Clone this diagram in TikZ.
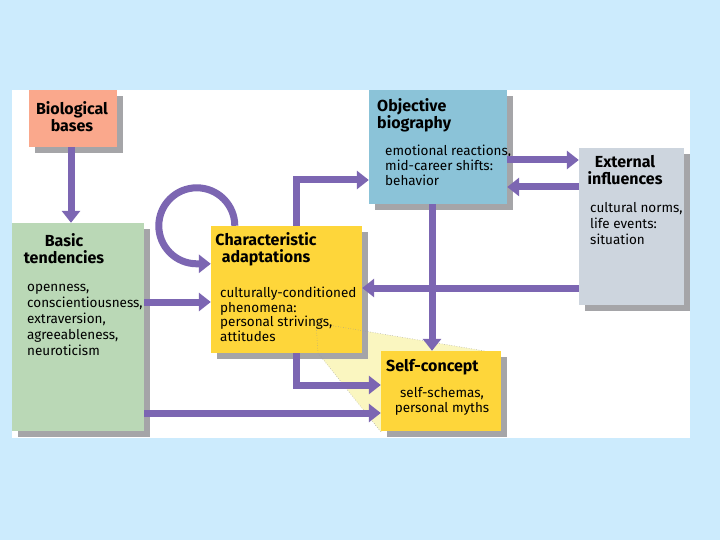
\documentclass[tikz,border=0pt]{standalone}
\usepackage{fontspec}
\setmainfont{Fira Sans}
\usetikzlibrary{arrows.meta,shadows}
\definecolor{bgblue}{RGB}{204,235,253}
\definecolor{shadowgray}{RGB}{165,165,168}
\definecolor{purp}{RGB}{124,102,178}
\definecolor{salmon}{RGB}{250,168,140}
\definecolor{sage}{RGB}{186,216,182}
\definecolor{gold}{RGB}{254,214,58}
\definecolor{skyb}{RGB}{139,195,216}
\definecolor{slate}{RGB}{205,213,222}
\definecolor{paley}{RGB}{250,246,192}
\tikzset{
  box/.style={draw=none, inner sep=0pt, drop shadow={shadow xshift=6pt, shadow yshift=-6pt, fill=shadowgray, opacity=1}},
  arr/.style={line width=7pt, draw=purp, -{Triangle[width=18pt,length=12pt]}},
  ttl/.style={inner sep=0pt, font={\fontsize{16}{17}\selectfont\bfseries}},
  bdy/.style={inner sep=0pt, font={\fontsize{13.5}{#1}\selectfont}},
  bdy/.default=15.5,
  dots/.style={draw=gray!80, line width=0.5pt, dotted}
}
\begin{document}
\begin{tikzpicture}[x=1pt,y=-1pt]
\useasboundingbox (0,0) rectangle (720,540);
\fill[bgblue] (0,0) rectangle (720,540);
\fill[white] (12,90) rectangle (690,438);
% highlight wedge
\fill[paley] (316,323) -- (485,351) -- (381,432) -- (318,353) -- cycle;
% boxes
\node[box, fill=salmon, minimum width=88pt, minimum height=57pt] (bio) at (73,118.5) {};
\node[box, fill=sage, minimum width=132pt, minimum height=208pt] (basic) at (78,327) {};
\node[box, fill=gold, minimum width=151pt, minimum height=127pt] (char) at (286.5,289.5) {};
\node[box, fill=skyb, minimum width=138pt, minimum height=114pt] (obj) at (438,147) {};
\node[box, fill=slate, minimum width=105pt, minimum height=157pt] (ext) at (631.5,226.5) {};
% dotted callout lines
\draw[dots] (316,323) -- (485,351);
\draw[dots] (316,323) -- (318,353) -- (381,432);
% texts (anchor base = baseline of last line)
\node[ttl, anchor=base, align=center] (biot) at (72,132) {Biological\\bases};
\node[ttl, anchor=base, align=center] (basict) at (64,263) {Basic\\tendencies};
\node[bdy=15.8, anchor=base west, align=left] (basicb) at (27,355) {openness,\\conscientiousness,\\extraversion,\\agreeableness,\\neuroticism};
\node[ttl, anchor=base, align=center] (chart) at (266,262) {Characteristic\\adaptations};
\node[bdy=14.5, anchor=base west, align=left] (charb) at (220,341) {culturally-conditioned\\phenomena:\\personal strivings,\\attitudes};
\node[ttl, anchor=base west, align=left] (objt) at (377,129) {Objective\\biography};
\node[bdy=15.2, anchor=base west, align=left] (objb) at (385,186) {emotional reactions,\\mid-career shifts:\\behavior};
\node[ttl, anchor=base, align=center] (extt) at (625,185) {External\\influences};
\node[bdy=16, anchor=base west, align=left] (extb) at (590,244) {cultural norms,\\life events:\\situation};
% arrows
\draw[arr] (bio.south -| 71,0) -- (basic.north -| 71,0);
\draw[arr] ([xshift=24pt]char.north west) arc[start angle=0, end angle=270, radius=38pt] -- ([yshift=-38pt]char.north west);
\draw[arr] (basic.east |- 0,302) -- (char.west |- 0,302);
\draw[arr] ([xshift=86pt]char.north west) |- (obj.west |- 0,180);
\draw[arr] (obj.east |- 0,160) -- (ext.west |- 0,160);
\draw[arr] (ext.west |- 0,187) -- (obj.east |- 0,187);
\draw[arr] (ext.west |- 0,288) -- (char.east |- 0,288);
\node[box, fill=gold, minimum width=120pt, minimum height=80pt] (self) at (441,391) {};
\draw[arr] (obj.south -| 432,0) -- (self.north -| 432,0);
\draw[arr] ([xshift=86pt]char.south west) |- (self.west |- 0,385);
\draw[arr] (basic.east |- 0,413) -- (self.west |- 0,413);
\node[ttl, anchor=base west] (selft) at (386,371) {Self-concept};
\node[bdy=15, anchor=base, align=center] (selfb) at (442,412) {self-schemas,\\personal myths};
\end{tikzpicture}
\end{document}
